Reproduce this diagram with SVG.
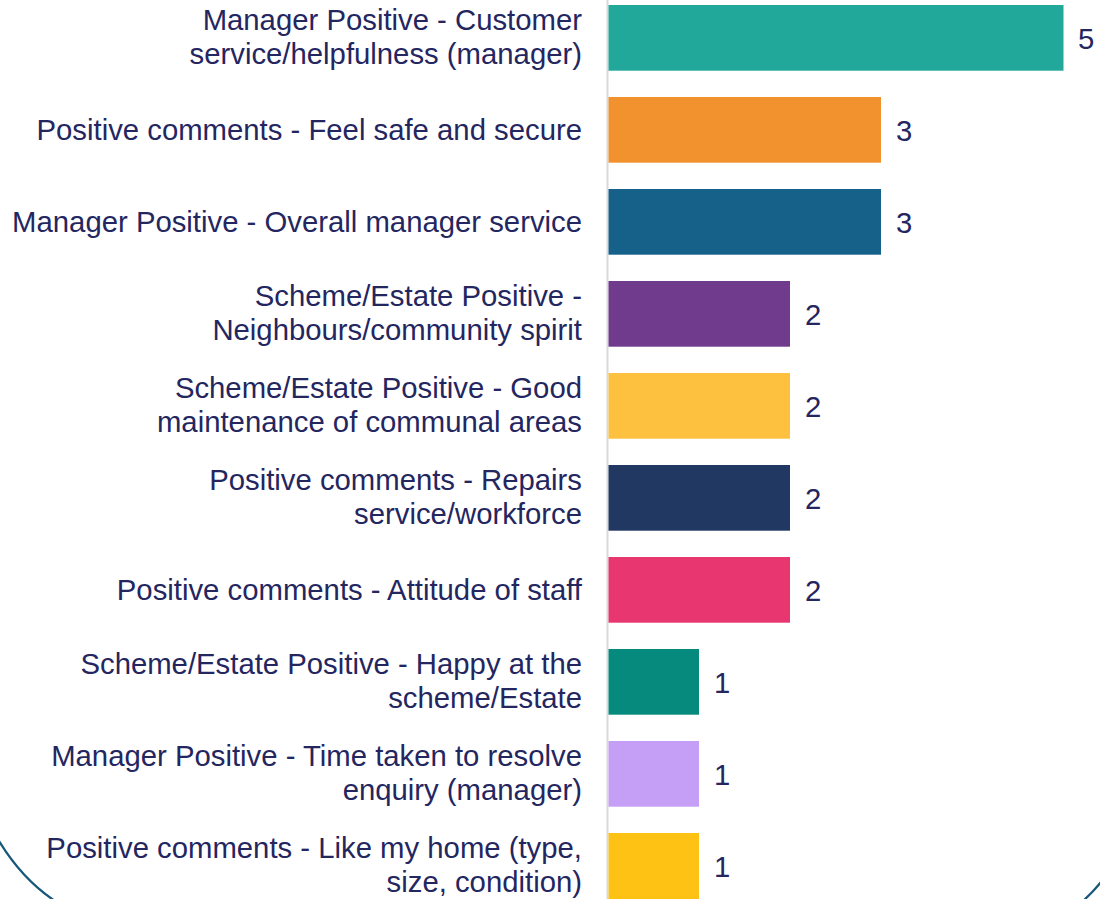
<svg xmlns="http://www.w3.org/2000/svg" width="1100" height="899" viewBox="0 0 1100 899">
<style>
.lbl{font-family:"Liberation Sans",Arial,sans-serif;font-size:29.3px;fill:#24265F;text-anchor:end}
.val{font-family:"Liberation Sans",Arial,sans-serif;font-size:29.3px;fill:#24265F}
.frame{fill:none;stroke:#17577A;stroke-width:2.2}
</style>
<rect width="1100" height="899" fill="#ffffff"/>
<g id="frame">
<path class="frame" d="M -1 841 C 10 859, 28 883, 55 901"/>
<path class="frame" d="M 1083 901 Q 1092 893 1101 882"/>
</g>
<g id="axis"><line x1="607.5" y1="0" x2="607.5" y2="899" stroke="#D9D9D9" stroke-width="2"/></g>
<g id="bar1"><rect x="608.5" y="5" width="455" height="65.7" fill="#22A89A"/>
<text class="lbl" x="582" y="30.3">Manager Positive - Customer</text><text class="lbl" x="582" y="64.3">service/helpfulness (manager)</text>
<text class="val" x="1078" y="48.5">5</text></g>
<g id="bar2"><rect x="608.5" y="97" width="272.5" height="65.7" fill="#F2922E"/>
<text class="lbl" x="582" y="140">Positive comments - Feel safe and secure</text>
<text class="val" x="896" y="140.5">3</text></g>
<g id="bar3"><rect x="608.5" y="189" width="272.5" height="65.7" fill="#15618A"/>
<text class="lbl" x="582" y="232">Manager Positive - Overall manager service</text>
<text class="val" x="896" y="232.5">3</text></g>
<g id="bar4"><rect x="608.5" y="281" width="181.5" height="65.7" fill="#703B8C"/>
<text class="lbl" x="582" y="306.3">Scheme/Estate Positive -</text><text class="lbl" x="582" y="340.3">Neighbours/community spirit</text>
<text class="val" x="805" y="324.5">2</text></g>
<g id="bar5"><rect x="608.5" y="373" width="181.5" height="65.7" fill="#FDC13F"/>
<text class="lbl" x="582" y="398.3">Scheme/Estate Positive - Good</text><text class="lbl" x="582" y="432.3">maintenance of communal areas</text>
<text class="val" x="805" y="416.5">2</text></g>
<g id="bar6"><rect x="608.5" y="465" width="181.5" height="65.7" fill="#213863"/>
<text class="lbl" x="582" y="490.3">Positive comments - Repairs</text><text class="lbl" x="582" y="524.3">service/workforce</text>
<text class="val" x="805" y="508.5">2</text></g>
<g id="bar7"><rect x="608.5" y="557" width="181.5" height="65.7" fill="#E83770"/>
<text class="lbl" x="582" y="600">Positive comments - Attitude of staff</text>
<text class="val" x="805" y="600.5">2</text></g>
<g id="bar8"><rect x="608.5" y="649" width="90.5" height="65.7" fill="#068A7E"/>
<text class="lbl" x="582" y="674.3">Scheme/Estate Positive - Happy at the</text><text class="lbl" x="582" y="708.3">scheme/Estate</text>
<text class="val" x="714" y="692.5">1</text></g>
<g id="bar9"><rect x="608.5" y="741" width="90.5" height="65.7" fill="#C59FF5"/>
<text class="lbl" x="582" y="766.3">Manager Positive - Time taken to resolve</text><text class="lbl" x="582" y="800.3">enquiry (manager)</text>
<text class="val" x="714" y="784.5">1</text></g>
<g id="bar10"><rect x="608.5" y="833" width="90.5" height="66" fill="#FDC214"/>
<text class="lbl" x="582" y="858.3">Positive comments - Like my home (type,</text><text class="lbl" x="582" y="892.3">size, condition)</text>
<text class="val" x="714" y="876.5">1</text></g>
</svg>
